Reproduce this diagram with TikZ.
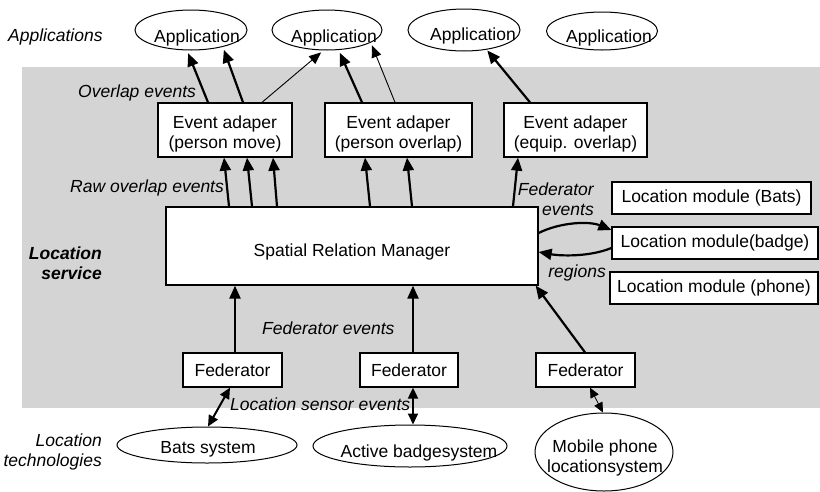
\documentclass[tikz,border=0pt]{standalone}
\usepackage{fontspec}
\setmainfont{Liberation Sans}
\usetikzlibrary{arrows.meta,shapes.geometric,calc}
\begin{document}
\begin{tikzpicture}[x=1pt,y=-1pt,
  every node/.style={font=\fontsize{17.5}{20}\selectfont},
  txt/.style={inner sep=0pt,align=center},
  box/.style={draw,fill=white,line width=1.3pt,inner sep=0pt,align=center},
  ell/.style={draw,ellipse,line width=1pt,inner sep=0pt},
  lab/.style={font=\fontsize{17.5}{20}\selectfont\itshape,inner sep=0pt},
  blab/.style={font=\fontsize{17.5}{20}\selectfont\bfseries\itshape,inner sep=0pt},
  arr/.style={line width=2.2pt,-{Triangle[length=13pt,width=11pt]}},
  tarr/.style={line width=0.9pt,-{Triangle[length=12pt,width=10pt]}},
  darr/.style={line width=2pt,{Triangle[length=11pt,width=10pt]}-{Triangle[length=11pt,width=10pt]}},
  tdarr/.style={line width=0.8pt,{Triangle[length=10pt,width=9pt]}-{Triangle[length=10pt,width=9pt]}},
]
\useasboundingbox (0,0) rectangle (820,491);
\fill[black!17] (22,67) rectangle (820,408);

% applications
\node[ell,minimum width=112pt,minimum height=40pt,label={[txt,xshift=6pt,yshift=-8pt]center:Application}] (A1) at (191,30) {};
\node[ell,minimum width=110pt,minimum height=40pt,label={[txt,xshift=7pt,yshift=-8pt]center:Application}] (A2) at (327,30) {};
\node[ell,minimum width=112pt,minimum height=42pt,label={[txt,xshift=9pt,yshift=-6pt]center:Application}] (A3) at (464,30) {};
\node[ell,minimum width=111pt,minimum height=38pt,label={[txt,xshift=7pt,yshift=-7pt]center:Application}] (A4) at (602,31) {};

% event adapters
\node[box,minimum width=134pt,minimum height=54pt,label={[txt,yshift=-4pt]center:Event adaper\\(person move)}] (EA1) at (225,130) {};
\node[box,minimum width=147pt,minimum height=54pt,label={[txt,yshift=-4pt]center:Event adaper\\(person overlap)}] (EA2) at (398.5,130) {};
\node[box,minimum width=143pt,minimum height=54pt,label={[txt,yshift=-4pt]center:Event adaper\\(equip. overlap)}] (EA3) at (575.5,130) {};

% spatial relation manager
\node[box,minimum width=372pt,minimum height=78pt,label={[txt,yshift=-6pt]center:Spatial Relation Manager}] (SRM) at (352,246) {};

% location modules
\node[box,minimum width=199pt,minimum height=32pt] (LMa) at (711.5,198) {Location module (Bats)};
\node[box,minimum width=206pt,minimum height=32pt] (LMb) at (715,243) {Location module(badge)};
\node[box,minimum width=208pt,minimum height=32pt] (LMc) at (714,288) {Location module (phone)};

% federators
\node[box,minimum width=99pt,minimum height=34pt] (F1) at (232.5,370) {Federator};
\node[box,minimum width=98pt,minimum height=34pt] (F2) at (409,370) {Federator};
\node[box,minimum width=99pt,minimum height=34pt] (F3) at (585.5,370) {Federator};

% location technologies
\node[ell,minimum width=180pt,minimum height=36pt,label={[txt,xshift=1pt,yshift=-4pt]center:Bats system}] (Bats) at (207,445) {};
\node[ell,minimum width=194pt,minimum height=42pt,label={[txt,xshift=9pt,yshift=-7pt]center:Active badgesystem}] (Badge) at (410,446) {};
\node[ell,minimum width=138pt,minimum height=78pt,label={[txt,xshift=1pt,yshift=-6pt]center:Mobile phone\\locationsystem}] (Phone) at (604,452) {};

% side labels
\node[lab,anchor=base west] (lApps) at (8,41) {Applications};
\node[blab,anchor=east,align=right] (lServ) at (102,263) {Location\\service};
\node[lab,anchor=east,align=right] (lTech) at (102,452) {Location\\technologies};

% connector labels
\node[lab,anchor=base west] (lOv) at (78,97) {Overlap events};
\node[lab,anchor=base west] (lRaw) at (70,192) {Raw overlap events};
\node[lab,anchor=base west] (lFed) at (262,334) {Federator events};
\node[lab,anchor=base west] (lSens) at (230,410) {Location sensor events};
\node[lab,anchor=east,align=right] (lFed2) at (594,199) {Federator\\events};
\node[lab,anchor=base east] (lReg) at (606,277) {regions};

% adapters -> applications
\draw[arr,shorten >=3pt] ($(EA1.north)+(-17,0)$) -- (A1.259);
\draw[arr,shorten >=3pt] ($(EA1.north)+(18,0)$) -- (A1.332);
\draw[tarr,shorten >=3pt] ($(EA1.north)+(37,0)$) -- (A2.260);
\draw[arr,shorten >=3pt] ($(EA2.north)+(-36.5,0)$) -- (A2.300);
\draw[tarr,shorten >=3pt] ($(EA2.north)+(-3.5,0)$) -- (A2.344);
\draw[arr,shorten >=1pt] ($(EA3.north)+(-45.5,0)$) -- (A3.319);

% SRM -> adapters
\draw[arr] ($(SRM.north)+(-123,0)$) -- ($(EA1.south)+(-1,0)$);
\draw[arr] ($(SRM.north)+(-100,0)$) -- ($(EA1.south)+(22,0)$);
\draw[arr] ($(SRM.north)+(-75,0)$) -- ($(EA1.south)+(48,0)$);
\draw[arr] ($(SRM.north)+(18,0)$) -- ($(EA2.south)+(-33.5,0)$);
\draw[arr] ($(SRM.north)+(60,0)$) -- ($(EA2.south)+(8.5,0)$);
\draw[arr] ($(SRM.north)+(161,0)$) -- ($(EA3.south)+(-57.5,0)$);

% federators -> SRM
\draw[arr] ($(F1.north)+(2.5,0)$) -- ($(SRM.south)+(-117,0)$);
\draw[arr] ($(F2.north)+(4,0)$) -- ($(SRM.south)+(61,0)$);
\draw[arr] ($(F3.north)+(-0.5,0)$) -- ($(SRM.south east)+(-3,0)$);

% federators <-> technologies
\draw[darr] ($(F1.south)+(-2.5,0)$) -- ($(Bats.north)+(1,0)$);
\draw[darr] ($(F2.south)+(4,0)$) -- ($(Badge.north)+(3,0)$);
\draw[tdarr] ($(F3.south)+(4.5,0)$) -- ($(Phone.north)+(-1,0)$);

% SRM <-> location module (badge)
\draw[arr] ($(SRM.east)+(0,-13)$) .. controls +(22,-11) and +(-22,-9) .. ($(LMb.west)+(0,-13)$);
\draw[arr] ($(LMb.west)+(0,5)$) .. controls +(-22,9) and +(22,4) .. ($(SRM.east)+(0,6)$);
\end{tikzpicture}
\end{document}
